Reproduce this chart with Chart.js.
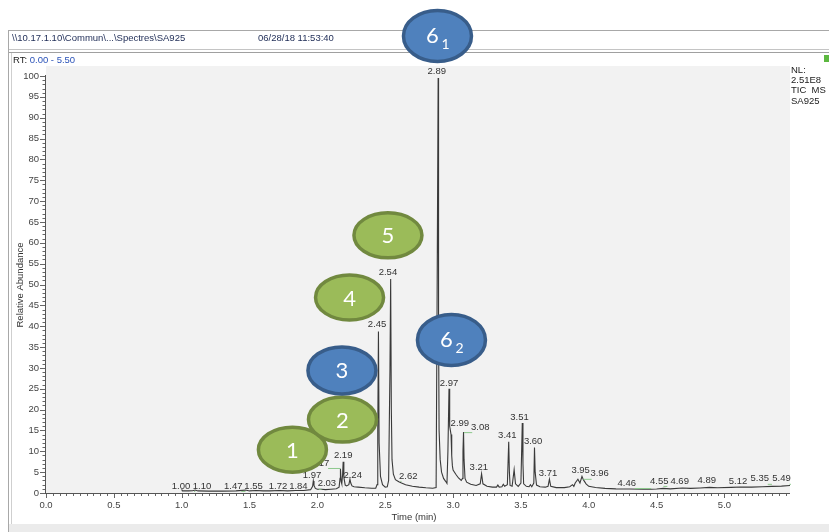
<!DOCTYPE html>
<html><head><meta charset="utf-8">
<script src="https://cdn.jsdelivr.net/npm/chart.js@4.4.0/dist/chart.umd.min.js"></script>
<style>html,body{margin:0;padding:0;background:#fff;overflow:hidden}#wrap{width:829px;height:532px;position:relative}</style>
</head><body><div id="wrap"><canvas id="c" width="829" height="532"></canvas></div>
<script>
// ---- data ----
const times = [1.00,1.005,1.02,1.05,1.08,1.10,1.12,1.20,1.30,1.40,1.47,1.50,1.55,1.60,1.65,1.72,1.78,1.84,1.90,1.95,1.965,1.97,1.975,1.985,2.00,2.03,2.06,2.10,2.14,2.16,2.167,2.17,2.175,2.18,2.186,2.19,2.195,2.205,2.215,2.232,2.24,2.246,2.255,2.27,2.30,2.35,2.40,2.43,2.44,2.445,2.45,2.455,2.465,2.48,2.50,2.515,2.525,2.535,2.54,2.545,2.55,2.56,2.575,2.60,2.62,2.65,2.70,2.75,2.80,2.85,2.875,2.882,2.89,2.893,2.897,2.905,2.915,2.93,2.945,2.955,2.962,2.97,2.975,2.98,2.985,2.99,2.995,3.00,3.02,3.04,3.06,3.07,3.073,3.077,3.081,3.088,3.10,3.13,3.17,3.20,3.21,3.22,3.25,3.29,3.32,3.33,3.34,3.36,3.37,3.38,3.40,3.41,3.415,3.42,3.435,3.45,3.46,3.48,3.50,3.51,3.515,3.52,3.54,3.56,3.57,3.58,3.595,3.60,3.605,3.615,3.64,3.68,3.70,3.71,3.72,3.76,3.82,3.86,3.88,3.89,3.90,3.92,3.935,3.95,3.96,3.98,4.00,4.05,4.12,4.20,4.30,4.40,4.46,4.50,4.55,4.60,4.69,4.75,4.82,4.89,4.95,5.05,5.12,5.20,5.28,5.35,5.42,5.49];
const abundance = [0.9,0.5,0.5,0.5,0.55,0.7,0.5,0.45,0.45,0.5,0.7,0.5,0.6,0.5,0.5,0.6,0.5,0.6,0.6,0.8,1.6,2.9,1.8,1.1,0.9,0.9,0.8,0.9,1.0,1.4,3.5,5.8,2.8,2.2,4.5,7.5,3.8,1.9,1.7,2.0,3.3,2.4,1.7,1.5,1.4,1.25,1.15,1.15,2.0,15,38.7,12,4,2.0,1.4,1.5,3.0,30,51.3,20,8,4.5,3.2,2.7,2.4,2.0,1.6,1.4,1.25,1.15,1.3,45,99.5,40,15,8,5,3.5,2.8,2.3,10,25,16,15,14,9,6.5,5.5,4.5,3.6,3.0,3.5,10,14.6,8,3.5,2.6,2.1,1.8,2.2,4.6,2.2,1.6,1.4,1.4,1.9,1.4,1.5,2.1,1.6,2.0,12.3,5,1.8,1.6,5.6,2.2,1.6,2.4,16.8,7,2.2,1.6,1.5,2.0,1.5,2.4,10.9,5,1.9,1.5,1.4,1.6,3.3,1.6,1.3,1.3,1.5,2.0,1.6,2.4,3.3,2.4,4.0,3.2,2.2,1.6,1.3,1.1,1.0,0.95,0.9,0.9,0.95,1.1,1.0,1.2,1.1,1.2,1.35,1.25,1.35,1.45,1.4,1.5,1.6,1.65,1.8];
const xTickValues = [0.0,0.5,1.0,1.5,2.0,2.5,3.0,3.5,4.0,4.5,5.0];
const yTickValues = [0,5,10,15,20,25,30,35,40,45,50,55,60,65,70,75,80,85,90,95,100];
const peakTimes  = [1.00,1.10,1.47,1.55,1.72,1.84,1.97,2.03,2.17,2.19,2.24,2.45,2.54,2.62,2.89,2.97,2.99,3.08,3.21,3.41,3.51,3.60,3.71,3.95,3.96,4.46,4.55,4.69,4.89,5.12,5.35,5.49];
const peakLabels = ['1.00','1.10','1.47','1.55','1.72','1.84','1.97','2.03','2.17','2.19','2.24','2.45','2.54','2.62','2.89','2.97','2.99','3.08','3.21','3.41','3.51','3.60','3.71','3.95','3.96','4.46','4.55','4.69','4.89','5.12','5.35','5.49'];
const labelAt    = [0.995,1.15,1.38,1.53,1.71,1.86,1.96,2.07,2.02,2.19,2.26,2.44,2.52,2.67,2.88,2.97,3.05,3.20,3.19,3.40,3.49,3.59,3.70,3.94,4.08,4.28,4.52,4.67,4.87,5.10,5.26,5.42];
const labelLevel = [1.7,1.7,1.7,1.7,1.7,1.7,4.3,2.2,7.2,9.1,4.3,40.5,53.0,4.1,101.0,26.4,16.8,15.8,6.2,13.9,18.2,12.5,4.6,5.5,4.6,2.4,2.9,2.9,3.1,2.9,3.4,3.4];
const markerText  = ['1','2','3','4','5','6','6'];
const markerSub   = ['','','','','','1','2'];
const markerTime  = [1.816,2.185,2.181,2.237,2.52,2.885,2.988];
const markerLevel = [10.4,17.6,29.4,46.9,61.8,109.6,36.7];
const markerKind  = ['green','green','blue','green','green','blue','blue'];

const FONT = "'Liberation Sans Narrow','Liberation Sans',Arial,sans-serif";

const decor = {
  id:'decor',
  beforeDraw(chart){
    const c = chart.ctx, a = chart.chartArea, W = chart.width, H = chart.height;
    c.save();
    c.fillStyle='#fff'; c.fillRect(0,0,W,H);
    // frame
    c.fillStyle='#ebebeb'; c.fillRect(9,524,W-9,8);
    c.strokeStyle='#a8a8a8'; c.lineWidth=1;
    c.beginPath(); c.moveTo(8,30.5); c.lineTo(W,30.5); c.stroke();
    c.beginPath(); c.moveTo(8.5,30); c.lineTo(8.5,H); c.stroke();
    c.strokeStyle='#c4c4c4';
    c.beginPath(); c.moveTo(9,49.5); c.lineTo(W,49.5); c.stroke();
    c.strokeStyle='#a0a0a0';
    c.beginPath(); c.moveTo(9,52.5); c.lineTo(W,52.5); c.stroke();
    c.strokeStyle='#cfcfcf';
    c.beginPath(); c.moveTo(11.5,53); c.lineTo(11.5,524); c.stroke();
    // header texts
    c.font = "9.5px "+FONT; c.textBaseline='middle'; c.textAlign='left';
    c.fillStyle='#1d2b55';
    c.fillText('\\\\10.17.1.10\\Commun\\...\\Spectres\\SA925',12,38);
    c.fillText('06/28/18 11:53:40',258,38);
    c.fillStyle='#222'; c.fillText('RT:',13,60);
    const w = c.measureText('RT: ').width;
    c.fillStyle='#2a52b8'; c.fillText('0.00 - 5.50',13+w,60);
    c.fillStyle='#5cb840'; c.fillRect(824,55,5,7);
    // plot background
    c.fillStyle='#f2f2f2'; c.fillRect(a.left,a.top,a.right-a.left,a.bottom-a.top);
    // right info
    c.fillStyle='#222'; c.font="9.5px "+FONT;
    ['NL:','2.51E8','TIC  MS','SA925'].forEach((t,i)=>c.fillText(t,791,70+i*10.3));
    // axis titles
    c.fillStyle='#333';
    c.textAlign='center';
    c.fillText('Time (min)',(a.left+a.right)/2-4,517);
    c.translate(20,285); c.rotate(-Math.PI/2); c.fillText('Relative Abundance',0,0);
    c.restore();
  },
  afterDatasetsDraw(chart){
    const c = chart.ctx, a = chart.chartArea, xs = chart.scales.x, ys = chart.scales.y;
    c.save();
    // axis lines
    c.strokeStyle='#555'; c.lineWidth=1;
    c.beginPath(); c.moveTo(a.left,a.bottom+0.5); c.lineTo(a.right,a.bottom+0.5); c.stroke();
    c.beginPath(); c.moveTo(a.left-0.5,ys.getPixelForValue(100)-1); c.lineTo(a.left-0.5,a.bottom+1); c.stroke();
    // x ticks (minor every 0.05, major every 0.5)
    c.strokeStyle='#666';
    for(let i=0;i<=109;i++){
      const v=i*0.05; const px=Math.round(xs.getPixelForValue(v))+0.5;
      if(px>a.right) break;
      const len = (i%10===0)?4:2;
      c.beginPath(); c.moveTo(px,a.bottom+1); c.lineTo(px,a.bottom+1+len); c.stroke();
    }
    // y ticks (minor every 1, major every 5)
    for(let v=0;v<=100;v++){
      const py=Math.round(ys.getPixelForValue(v))+0.5;
      const len=(v%5===0)?5:2.5;
      c.beginPath(); c.moveTo(a.left-1,py); c.lineTo(a.left-1-len,py); c.stroke();
    }
    // peak labels and connectors
    c.font="9.5px "+FONT; c.textAlign='center'; c.textBaseline='middle';
    peakTimes.forEach((t,i)=>{
      const lx=xs.getPixelForValue(labelAt[i]), ly=ys.getPixelForValue(labelLevel[i]);
      const px=xs.getPixelForValue(t);
      if(Math.abs(px-lx)>4){
        c.strokeStyle='#8cc88c'; c.lineWidth=1;
        c.beginPath(); c.moveTo(px,ly+5.5); c.lineTo(lx+(px>lx?8:-8),ly+5.5); c.stroke();
      }
      c.fillStyle='#333'; c.fillText(peakLabels[i],lx,ly);
    });
    // numbered markers
    const col={green:['#9bbb59','#71893f'],blue:['#4f81bd','#385d8a']};
    markerText.forEach((t,i)=>{
      const cx=xs.getPixelForValue(markerTime[i]), cy=ys.getPixelForValue(markerLevel[i]);
      const big = markerSub[i]!=='';
      const rx=34, ry= big?25.5:(markerKind[i]==='blue'?23.5:22.5);
      c.beginPath(); c.ellipse(cx,cy,rx,ry,0,0,Math.PI*2);
      c.fillStyle=col[markerKind[i]][0]; c.fill();
      c.lineWidth=3.5; c.strokeStyle=col[markerKind[i]][1]; c.stroke();
      c.fillStyle='#fff'; c.textAlign='center'; c.textBaseline='middle';
      c.font="22px Lato, 'Open Sans', sans-serif";
      if(big){
        c.fillText(t,cx-5,cy);
        c.font="14px Lato, 'Open Sans', sans-serif";
        c.fillText(markerSub[i],cx+8,cy+9);
      } else {
        c.fillText(t,cx,cy+1);
      }
    });
    c.restore();
  }
};

new Chart(document.getElementById('c').getContext('2d'),{
  type:'line',
  data:{datasets:[{data:times.map((t,i)=>({x:t,y:abundance[i]})),borderColor:'#3a3a3a',borderWidth:1.1,pointRadius:0,tension:0,fill:false}]},
  options:{
    responsive:false, animation:false, devicePixelRatio:1,
    layout:{padding:{left:0,top:66,right:39,bottom:0}},
    plugins:{legend:{display:false},tooltip:{enabled:false},title:{display:false}},
    scales:{
      x:{type:'linear',min:0,max:5.483,
        grid:{display:false,drawTicks:false},border:{display:false},
        ticks:{padding:7,color:'#444',font:{family:FONT,size:9.5},maxRotation:0,autoSkip:false,callback:v=>Number(v).toFixed(1)},
        afterBuildTicks:s=>{s.ticks=xTickValues.map(v=>({value:v}));},
        afterFit:s=>{s.height=39;}},
      y:{type:'linear',min:0,max:102.4,
        grid:{display:false,drawTicks:false},border:{display:false},
        ticks:{padding:7,color:'#444',font:{family:FONT,size:9.5},autoSkip:false,callback:v=>String(v)},
        afterBuildTicks:s=>{s.ticks=yTickValues.map(v=>({value:v}));},
        afterFit:s=>{s.width=46;}}
    }
  },
  plugins:[decor]
});
</script></body></html>
